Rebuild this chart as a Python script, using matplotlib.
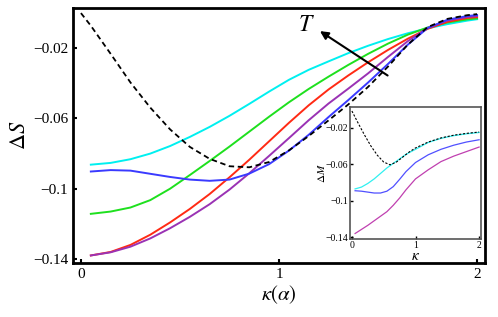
import numpy as np
import matplotlib
matplotlib.use("Agg")
import matplotlib.pyplot as plt

plt.rcParams['font.family'] = ['Liberation Serif', 'DejaVu Serif']
plt.rcParams['mathtext.fontset'] = 'stix'

# main panel, curves for increasing T (cyan -> blue), plus the dashed reference
kappa = [0.05, 0.15, 0.25, 0.35, 0.45, 0.55, 0.65, 0.75, 0.85, 0.95, 1.05,
         1.15, 1.25, 1.35, 1.45, 1.55, 1.65, 1.75, 1.85, 1.95, 2.0]
dS_cyan = [-0.0863, -0.0853, -0.0832, -0.0800, -0.0757, -0.0705, -0.0648, -0.0585, -0.0517,
           -0.0447, -0.0380, -0.0323, -0.0275, -0.0228, -0.0186, -0.0148, -0.0115, -0.0087,
           -0.0063, -0.0043, -0.0035]
dS_green = [-0.1143, -0.1130, -0.1107, -0.1065, -0.1000, -0.0922, -0.0842, -0.0760, -0.0675,
            -0.0590, -0.0508, -0.0432, -0.0362, -0.0295, -0.0232, -0.0174, -0.0123, -0.0082,
            -0.0054, -0.0036, -0.0030]
dS_red = [-0.1380, -0.1360, -0.1320, -0.1262, -0.1192, -0.1115, -0.1030, -0.0935, -0.0835,
          -0.0730, -0.0625, -0.0525, -0.0435, -0.0355, -0.0280, -0.0210, -0.0146, -0.0090,
          -0.0050, -0.0028, -0.0023]
dS_purple = [-0.1380, -0.1362, -0.1330, -0.1283, -0.1225, -0.1160, -0.1088, -0.1005, -0.0912,
             -0.0813, -0.0712, -0.0610, -0.0515, -0.0430, -0.0343, -0.0250, -0.0160, -0.0085,
             -0.0042, -0.0022, -0.0017]
dS_blue = [-0.0902, -0.0894, -0.0897, -0.0915, -0.0933, -0.0948, -0.0955, -0.0948, -0.0914,
           -0.0860, -0.0783, -0.0693, -0.0592, -0.0495, -0.0395, -0.0290, -0.0180, -0.0085,
           -0.0038, -0.0017, -0.0011]

kappa_ref = [0.0, 0.05, 0.15, 0.25, 0.35, 0.45, 0.55, 0.65, 0.75, 0.85, 0.95, 1.05,
             1.15, 1.25, 1.35, 1.45, 1.55, 1.65, 1.75, 1.85, 1.95, 2.0]
dS_ref = [0.0, -0.0072, -0.0232, -0.0395, -0.0538, -0.0662, -0.0762, -0.0830, -0.0872, -0.0878,
          -0.0848, -0.0782, -0.0700, -0.0611, -0.0520, -0.0420, -0.0305, -0.0180, -0.0080,
          -0.0033, -0.0012, -0.0006]

# inset
kappa_in = [0.05, 0.15, 0.25, 0.35, 0.45, 0.55, 0.65, 0.75, 0.85, 1.0, 1.2, 1.4, 1.6, 1.8, 2.0]
dM_cyan = [-0.087, -0.085, -0.081, -0.076, -0.070, -0.064, -0.059, -0.054, -0.049, -0.0435,
           -0.036, -0.0315, -0.0285, -0.0265, -0.025]
dM_blue = [-0.0890, -0.0895, -0.0905, -0.0915, -0.0915, -0.0895, -0.0845, -0.0765, -0.068,
           -0.058, -0.0495, -0.0435, -0.039, -0.0355, -0.0330]
dM_magenta = [-0.136, -0.1315, -0.127, -0.122, -0.117, -0.112, -0.105, -0.097, -0.088, -0.076,
              -0.066, -0.057, -0.051, -0.046, -0.041]
kappa_in_ref = [0.0, 0.1, 0.2, 0.3, 0.4, 0.5, 0.6, 0.7, 0.8, 0.9, 1.0, 1.2, 1.4, 1.6, 1.8, 2.0]
dM_ref = [-0.0014, -0.015, -0.028, -0.040, -0.050, -0.0575, -0.0605, -0.0575, -0.052, -0.0465,
          -0.042, -0.0355, -0.031, -0.028, -0.026, -0.0245]

yticks = [-0.02, -0.06, -0.1, -0.14]
ytick_labels = ['\u22120.02', '\u22120.06', '\u22120.1', '\u22120.14']

fig = plt.figure(figsize=(4.98, 3.17), dpi=100)
ax = fig.add_axes([0.1466, 0.1703, 0.8273, 0.8045])

ax.plot(kappa, dS_cyan, color='#00f0f0', lw=1.4)
ax.plot(kappa, dS_green, color='#1ee01e', lw=1.4)
ax.plot(kappa, dS_red, color='#ff2a14', lw=1.4)
ax.plot(kappa, dS_purple, color='#9a32b4', lw=1.4)
ax.plot(kappa, dS_blue, color='#3a3aff', lw=1.4)
ax.plot(kappa_ref, dS_ref, color='black', lw=1.3, ls=(0, (3, 2)))

ax.set_xlim(-0.04, 2.04)
ax.set_ylim(-0.1423, 0.0029)
ax.set_xticks([0, 1, 2])
ax.set_yticks(yticks)
ax.set_yticklabels(ytick_labels)
ax.tick_params(direction='in', length=3, width=1.5, labelsize=11, top=False, right=False)
for s in ax.spines.values():
    s.set_linewidth(2)
ax.set_xlabel(r'$\kappa(\alpha)$', fontsize=15, labelpad=2)
ax.set_ylabel(r'$\Delta S$', fontsize=16, labelpad=2)

# arrow showing increasing T
ax.annotate('', xy=(1.195, -0.0094), xytext=(1.56, -0.0364),
            arrowprops=dict(arrowstyle='-|>', color='black', lw=1.5, mutation_scale=12))
ax.text(1.14, -0.0068, r'$T$', fontsize=17, ha='center', va='center')

# inset
axin = fig.add_axes([0.7028, 0.2461, 0.2631, 0.4164])
axin.plot(kappa_in, dM_cyan, color='#30f0f0', lw=0.9)
axin.plot(kappa_in, dM_blue, color='#5050ff', lw=0.9)
axin.plot(kappa_in, dM_magenta, color='#c040b0', lw=0.9)
axin.plot(kappa_in_ref, dM_ref, color='black', lw=0.8, ls=(0, (2, 1.5)))
axin.set_xlim(-0.03, 2.03)
axin.set_ylim(-0.142, 0.003)
axin.set_xticks([0, 1, 2])
axin.set_yticks(yticks)
axin.set_yticklabels(ytick_labels)
axin.tick_params(direction='in', length=2, width=1, labelsize=7, pad=1.5, top=False, right=False)
for s in axin.spines.values():
    s.set_linewidth(1.2)
    s.set_color('#555555')
axin.set_xlabel(r'$\kappa$', fontsize=11, labelpad=0)
axin.set_ylabel(r'$\Delta M$', fontsize=8, labelpad=-1)

fig.savefig('out.png', dpi=100)
